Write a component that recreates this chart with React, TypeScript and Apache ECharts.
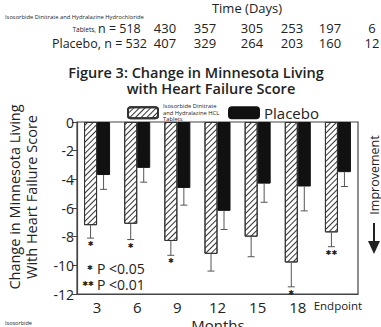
import React, { useEffect, useRef } from "react";
import * as echarts from "echarts";

// ---------- data ----------
const categories = ["3", "6", "9", "12", "15", "18", "Endpoint"];
const isdnMean = [-7.2, -7.1, -8.3, -9.2, -8.0, -9.8, -7.7];
const isdnLow = [-8.1, -8.2, -9.3, -10.4, -9.4, -11.5, -8.7];
const placeboMean = [-3.7, -3.2, -4.6, -6.2, -4.3, -4.5, -3.5];
const placeboLow = [-4.7, -4.2, -5.8, -7.5, -5.6, -6.2, -4.5];
const significance = ["*", "*", "*", "", "", "*", "**"];
const tabletsN = [518, 430, 357, 305, 253, 197, 6];
const placeboN = [532, 407, 329, 264, 203, 160, 12];
const yTicks = { min: -12, max: 0, interval: 2 };

// ---------- layout ----------
const FONT = "'Open Sans', 'DejaVu Sans', sans-serif";
const INK = "#222";
const BAR_W = 13;
const GRID = { left: 77, right: 23, top: 122, bottom: 33 };
const COL_X = [165, 205, 252, 292, 330, 372];

function errorSeries(name: string, mean: number[], low: number[], offset: number, stars?: string[]) {
  return {
    type: "custom",
    name,
    z: 5,
    silent: true,
    data: mean.map((m, i) => [i, m, low[i]]),
    renderItem: (params: any, api: any) => {
      const i = api.value(0);
      const p0 = api.coord([i, api.value(1)]);
      const p1 = api.coord([i, api.value(2)]);
      const cx = p0[0] + offset;
      const children: any[] = [
        { type: "line", shape: { x1: cx, y1: p0[1], x2: cx, y2: p1[1] }, style: { stroke: "#555", lineWidth: 1 } },
        { type: "line", shape: { x1: cx - 3.5, y1: p1[1], x2: cx + 3.5, y2: p1[1] }, style: { stroke: "#555", lineWidth: 1 } },
      ];
      const s = stars ? stars[params.dataIndex] : "";
      if (s) {
        children.push({
          type: "text",
          x: cx,
          y: p1[1] + 6,
          style: {
            text: s === "**" ? "✱✱" : "✱",
            fontSize: 7,
            fontFamily: "DejaVu Sans",
            fill: INK,
            align: "center",
            verticalAlign: "middle",
          },
        });
      }
      return { type: "group", children };
    },
  };
}

function txt(text: string, x: number, y: number, size: number, extra: any = {}) {
  return {
    type: "text",
    x,
    y,
    silent: true,
    style: {
      text,
      fontSize: size,
      lineHeight: extra.lineHeight || undefined,
      fontFamily: FONT,
      fill: INK,
      align: extra.align || "left",
      verticalAlign: "middle",
      fontWeight: extra.weight || "normal",
    },
    rotation: extra.rotation || 0,
  };
}

export default function App() {
  const ref = useRef<HTMLDivElement>(null);
  useEffect(() => {
    if (!ref.current) return;
    const chart = echarts.init(ref.current, null, { renderer: "svg" });
    const graphics: any[] = [
      txt("Time (Days)", 247, 8, 13, { align: "center", weight: 500, lineHeight: 13 }),
      txt("Isosorbide Dinitrate and Hydralazine Hydrochloride", 5, 17, 5.8, { lineHeight: 6 }),
      txt("Tablets,", 96, 29, 6.5, { align: "right", lineHeight: 7 }),
      txt("n = " + tabletsN[0], 98, 28, 12.5, { lineHeight: 10 }),
      txt("Placebo, n = " + placeboN[0], 147, 43, 12.5, { align: "right", lineHeight: 10 }),
      ...COL_X.map((x, k) => txt(String(tabletsN[k + 1]), x, 28, 13, { align: "center", lineHeight: 10 })),
      ...COL_X.map((x, k) => txt(String(placeboN[k + 1]), x, 43, 13, { align: "center", lineHeight: 10 })),
      txt("Figure 3: Change in Minnesota Living", 196, 72, 14.5, { align: "center", weight: 600 }),
      txt("with Heart Failure Score", 211, 88, 14.5, { align: "center", weight: 600 }),
      txt("Change in Minnesota Living", 14, 197, 14.5, { align: "center", rotation: Math.PI / 2 }),
      txt("With Heart Failure Score", 31, 197, 14.5, { align: "center", rotation: Math.PI / 2 }),
      txt("Improvement", 374, 175, 12.5, { align: "center", rotation: Math.PI / 2 }),
      { type: "line", silent: true, shape: { x1: 374, y1: 223, x2: 374, y2: 244 }, style: { stroke: INK, lineWidth: 2 } },
      { type: "polygon", silent: true, shape: { points: [[368, 241], [380, 241], [374, 254]] }, style: { fill: INK } },
      { type: "text", x: 90, y: 268, silent: true, style: { text: "✱", fontSize: 7, fontFamily: "DejaVu Sans", fill: INK, align: "center", verticalAlign: "middle" } },
      { type: "text", x: 88, y: 284, silent: true, style: { text: "✱✱", fontSize: 7, fontFamily: "DejaVu Sans", fill: INK, align: "center", verticalAlign: "middle" } },
      txt("P <0.05", 97, 268, 14),
      txt("P <0.01", 97, 284, 14),
      txt("Months", 218, 325, 15, { align: "center", lineHeight: 15 }),
      txt("Isosorbide", 5, 323, 5.5, { lineHeight: 6 }),
    ];
    chart.setOption({
      animation: false,
      grid: { ...GRID, show: true, borderColor: "#444", borderWidth: 1.2, containLabel: false },
      legend: {
        left: 122,
        top: 98,
        itemWidth: 30,
        itemHeight: 11,
        itemGap: 5,
        selectedMode: false,
        textStyle: { fontFamily: FONT, color: INK },
        data: [
          {
            name: "Isosorbide Dinitrate\nand Hydralazine HCL\nTablets",
            textStyle: { fontSize: 5.8, lineHeight: 6.5, width: 60 },
          },
          { name: "Placebo", textStyle: { fontSize: 15 } },
        ],
      },
      xAxis: {
        type: "category",
        data: categories,
        axisLine: { onZero: false, lineStyle: { color: "#444", width: 1.2 } },
        axisTick: { alignWithLabel: true, length: 4, lineStyle: { color: "#444" } },
        axisLabel: {
          interval: 0,
          fontFamily: FONT,
          fontSize: 15,
          color: INK,
          margin: 5,
          formatter: (v: string) => (v === "Endpoint" ? "{e|Endpoint}" : v),
          rich: { e: { fontSize: 11.5, fontFamily: FONT, color: INK } },
        },
      },
      yAxis: {
        type: "value",
        min: yTicks.min,
        max: yTicks.max,
        interval: yTicks.interval,
        axisLine: { show: true, lineStyle: { color: "#444", width: 1.2 } },
        axisTick: { show: true, length: 5, lineStyle: { color: "#444" } },
        axisLabel: { fontFamily: FONT, fontSize: 14, color: INK, margin: 3 },
        splitLine: { show: false },
      },
      series: [
        {
          type: "bar",
          name: "Isosorbide Dinitrate\nand Hydralazine HCL\nTablets",
          data: isdnMean,
          barWidth: BAR_W,
          barGap: "0%",
          itemStyle: {
            color: "#fff",
            borderColor: "#333",
            borderWidth: 1,
            decal: {
              symbol: "rect",
              symbolSize: 1,
              dashArrayX: [1, 0],
              dashArrayY: [1, 3],
              rotation: -Math.PI / 4,
              color: "#333",
            },
          },
        },
        {
          type: "bar",
          name: "Placebo",
          data: placeboMean,
          barWidth: BAR_W,
          barGap: "0%",
          itemStyle: { color: "#111", borderColor: "#111", borderWidth: 1 },
        },
        errorSeries("isdnErr", isdnMean, isdnLow, -BAR_W / 2, significance),
        errorSeries("placeboErr", placeboMean, placeboLow, BAR_W / 2),
      ],
      graphic: graphics,
    });
    return () => chart.dispose();
  }, []);
  return <div ref={ref} style={{ width: 381, height: 327, position: "absolute", left: 0, top: 0 }} />;
}
